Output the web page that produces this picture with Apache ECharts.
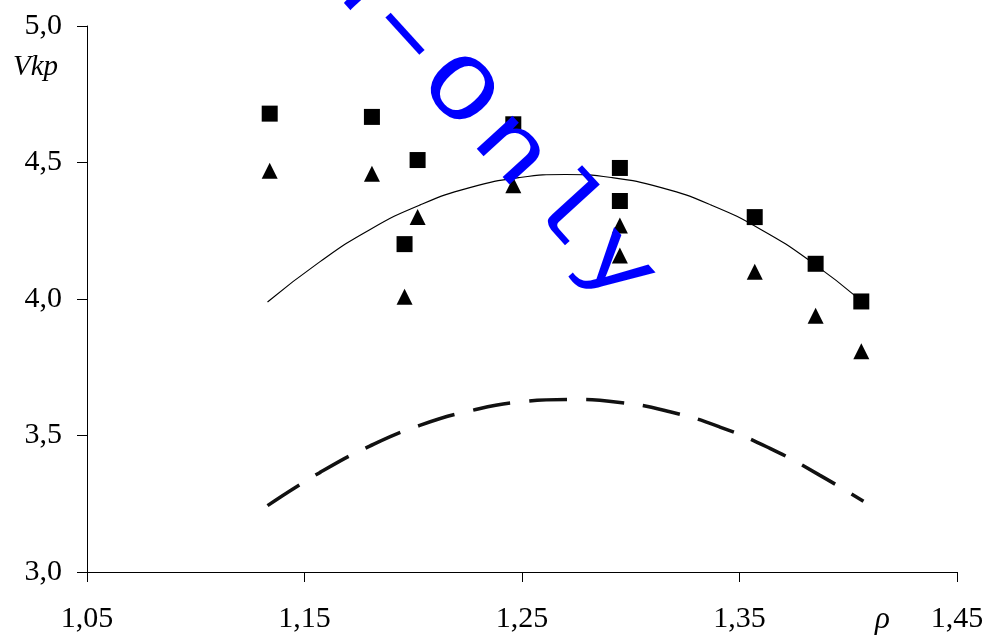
<!DOCTYPE html>
<html>
<head>
<meta charset="utf-8">
<script src="https://cdn.jsdelivr.net/npm/echarts@6/dist/echarts.min.js"></script>
<style>
html,body{margin:0;padding:0;background:#fff;}
#c{width:987px;height:635px;}
</style>
</head>
<body>
<div id="c"></div>
<script>
// ---- data ----
var xTicks = [1.05, 1.15, 1.25, 1.35, 1.45];
var yTicks = [3.0, 3.5, 4.0, 4.5, 5.0];

var squaresX = [1.134, 1.181, 1.196, 1.202, 1.246, 1.295, 1.295, 1.357, 1.385, 1.406];
var squaresY = [4.679, 4.667, 4.201, 4.509, 4.640, 4.480, 4.359, 4.300, 4.129, 3.991];

var trianglesX = [1.134, 1.181, 1.196, 1.202, 1.246, 1.295, 1.295, 1.357, 1.385, 1.406];
var trianglesY = [4.470, 4.459, 4.008, 4.300, 4.417, 4.269, 4.159, 4.100, 3.939, 3.809];

var solidX = [1.133, 1.157, 1.180, 1.203, 1.226, 1.249, 1.270, 1.291, 1.314, 1.337, 1.360, 1.383, 1.406];
var solidY = [3.989, 4.136, 4.254, 4.344, 4.408, 4.445, 4.456, 4.445, 4.408, 4.344, 4.254, 4.136, 3.993];

var dashX = [1.133, 1.157, 1.180, 1.203, 1.226, 1.249, 1.271, 1.295, 1.318, 1.341, 1.364, 1.387, 1.407];
var dashY = [3.243, 3.364, 3.461, 3.537, 3.590, 3.623, 3.632, 3.621, 3.587, 3.531, 3.453, 3.354, 3.259];

var watermarkChars = ['R', 'e', 'a', 'd', '-', 'O', 'n', 'l', 'y'];

function zip(a, b) { return a.map(function (v, i) { return [v, b[i]]; }); }

var serif = '"Liberation Serif", "Times New Roman", serif';
var chart = echarts.init(document.getElementById('c'), null, {renderer: 'canvas'});

// watermark letters along a rotated line
var ang = 47.6 * Math.PI / 180;
var step = 78.6;
var oIndex = 5, oX = 458, oY = 92;
var wm = watermarkChars.map(function (ch, i) {
  var k = i - oIndex;
  return {
    type: 'text',
    x: oX + k * step * Math.cos(ang),
    y: oY + k * step * Math.sin(ang),
    rotation: -ang,
    scaleX: ch === '-' ? 2.0 : 1.25,
    z: 100,
    style: {
      text: ch,
      fill: '#0000ff',
      font: 'normal 92px "Liberation Mono", "DejaVu Sans Mono", monospace',
      align: 'center',
      verticalAlign: 'middle'
    }
  };
});

var option = {
  animation: false,
  backgroundColor: '#ffffff',
  grid: {left: 87, right: 30, top: 26, bottom: 63, containLabel: false},
  xAxis: {
    type: 'value', min: 1.05, max: 1.45,
    splitLine: {show: false},
    axisLine: {show: true, onZero: false, lineStyle: {color: '#000', width: 1}},
    axisTick: {show: true, inside: false, length: 10, customValues: xTicks, lineStyle: {color: '#000', width: 1}},
    axisLabel: {
      customValues: xTicks, margin: 32, color: '#000',
      fontFamily: serif, fontSize: 30,
      formatter: function (v) { return v.toFixed(2).replace('.', ','); }
    }
  },
  yAxis: {
    type: 'value', min: 3, max: 5, interval: 0.5,
    splitLine: {show: false},
    axisLine: {show: true, onZero: false, lineStyle: {color: '#000', width: 1}},
    axisTick: {show: true, inside: false, length: 10, lineStyle: {color: '#000', width: 1}},
    axisLabel: {
      margin: 25, color: '#000', fontFamily: serif, fontSize: 30,
      formatter: function (v) { return v.toFixed(1).replace('.', ','); }
    }
  },
  series: [
    {
      type: 'line', data: zip(solidX, solidY), smooth: true, showSymbol: false,
      lineStyle: {color: '#000', width: 1.2}, z: 2
    },
    {
      type: 'line', data: zip(dashX, dashY), smooth: true, showSymbol: false,
      lineStyle: {color: '#111', width: 3.5, type: [38, 19]}, z: 2
    },
    {
      type: 'scatter', data: zip(squaresX, squaresY), symbol: 'rect', symbolSize: 16,
      itemStyle: {color: '#000', opacity: 1}, z: 3
    },
    {
      type: 'scatter', data: zip(trianglesX, trianglesY), symbol: 'triangle', symbolSize: 16,
      itemStyle: {color: '#000', opacity: 1}, z: 3
    }
  ],
  graphic: [
    {type: 'text', left: 13, top: 53, z: 50,
      style: {text: 'Vkp', fill: '#000', font: 'italic 29px ' + serif}},
    {type: 'text', left: 875, top: 604, z: 50,
      style: {text: 'ρ', fill: '#000', font: 'italic 31px ' + serif}}
  ].concat(wm)
};
chart.setOption(option);
</script>
</body>
</html>
